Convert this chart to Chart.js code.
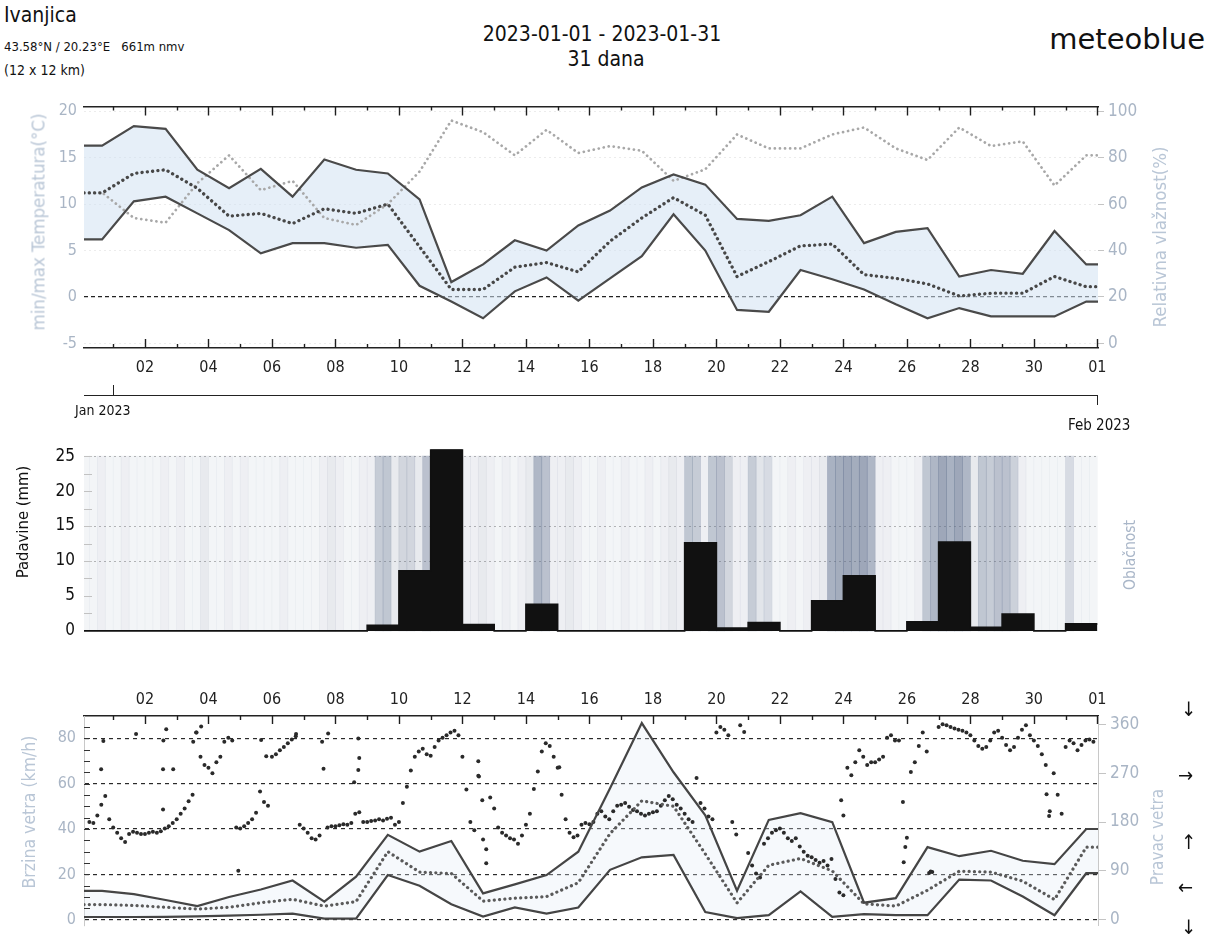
<!DOCTYPE html>
<html>
<head>
<meta charset="utf-8">
<script src="https://cdn.jsdelivr.net/npm/chart.js@4.4.1/dist/chart.umd.min.js"></script>
<style>
  body { margin: 0; background: #fff; width: 1209px; height: 943px; position: relative; overflow: hidden;
         font-family: "DejaVu Sans Condensed", "DejaVu Sans", sans-serif; color: #111; }
  .t { position: absolute; white-space: nowrap; }
  .rot { position: absolute; white-space: nowrap; transform: translate(-50%, -50%) rotate(-90deg); }
  canvas { position: absolute; left: 0; }
  .ln { position: absolute; }
</style>
</head>
<body>
<div class="t" style="left:4px;top:3px;font-size:21px;">Ivanjica</div>
<div class="t" style="left:4px;top:39px;font-size:13px;">43.58°N / 20.23°E &nbsp;&nbsp;661m nmv</div>
<div class="t" style="left:4px;top:62px;font-size:14px;">(12 x 12 km)</div>
<div class="t" style="left:602px;top:22px;font-size:21px;transform:translateX(-50%);">2023-01-01 - 2023-01-31</div>
<div class="t" style="left:606px;top:47px;font-size:21px;transform:translateX(-50%);">31 dana</div>
<div class="t" style="right:4px;top:22px;font-size:29px;font-family:'DejaVu Sans',sans-serif;">meteoblue</div>

<canvas id="c1" width="1209" height="300" style="top:90px"></canvas>
<canvas id="c2" width="1209" height="225" style="top:430px"></canvas>
<canvas id="c3" width="1209" height="258" style="top:685px"></canvas>

<div class="ln" style="left:84px;top:395px;width:1014px;border-top:1.5px solid #222"></div>
<div class="ln" style="left:113px;top:385px;height:10px;border-left:1.5px solid #222"></div>
<div class="ln" style="left:1097px;top:396px;height:9px;border-left:1.5px solid #222"></div>
<div class="t" style="left:75px;top:402px;font-size:14px;">Jan 2023</div>
<div class="t" style="left:1068px;top:416px;font-size:15px;">Feb 2023</div>

<div class="rot" style="left:38px;top:222px;font-size:18.5px;color:#b9c6d6;">min/max Temperatura(°C)</div>
<div class="rot" style="left:1159px;top:237px;font-size:18.5px;color:#b9c6d6;">Relativna vlažnost(%)</div>
<div class="rot" style="left:22px;top:522px;font-size:16.5px;color:#111;">Padavine (mm)</div>
<div class="rot" style="left:1130px;top:555px;font-size:15.5px;color:#a9b6c8;">Oblačnost</div>
<div class="rot" style="left:29px;top:812px;font-size:17.5px;color:#b9c6d6;">Brzina vetra (km/h)</div>
<div class="rot" style="left:1157px;top:837px;font-size:17px;color:#b9c6d6;">Pravac vetra</div>

<div class="t" style="left:1181px;top:699px;font-size:20px;line-height:20px;">↓</div>
<div class="t" style="left:1178px;top:765px;font-size:20px;line-height:20px;">→</div>
<div class="t" style="left:1181px;top:832px;font-size:20px;line-height:20px;">↑</div>
<div class="t" style="left:1178px;top:877px;font-size:20px;line-height:20px;">←</div>
<div class="t" style="left:1181px;top:917px;font-size:20px;line-height:20px;">↓</div>

<script>
// x axis in days after 2023-01-01 00:00
const X_MIN = -0.92, X_MAX = 31.02;
const POINT_OFFSET = -0.35;   // daily values sit a bit before midnight in the source
const dayTicks = [1, 3, 5, 7, 9, 11, 13, 15, 17, 19, 21, 23, 25, 27, 29, 31];
const dayLabels = ['02', '04', '06', '08', '10', '12', '14', '16', '18', '20', '22', '24', '26', '28', '30', '01'];

const tempTicks = [-5, 0, 5, 10, 15, 20];
const rhTicks = [0, 20, 40, 60, 80, 100];
const precipTicks = [0, 5, 10, 15, 20, 25];
const precipGridShown = [10, 15, 25];
const windTicks = [0, 20, 40, 60, 80];
const dirTicks = [0, 90, 180, 270, 360];

// daily series (Dec 31 .. Jan 31)
const tMax = [16.3, 18.4, 18.1, 13.7, 11.7, 13.8, 10.8, 14.8, 13.7, 13.3, 10.5, 1.6, 3.5, 6.1, 5.0, 7.7,
              9.3, 11.8, 13.2, 12.1, 8.4, 8.2, 8.8, 10.8, 5.8, 7.0, 7.4, 2.2, 2.9, 2.5, 7.1, 3.5];
const tMin = [6.2, 10.3, 10.8, 9.0, 7.2, 4.7, 5.8, 5.8, 5.3, 5.6, 1.2, -0.5, -2.3, 0.6, 2.1, -0.4,
              2.0, 4.4, 8.9, 5.0, -1.4, -1.6, 2.9, 1.9, 0.8, -0.8, -2.3, -1.2, -2.1, -2.1, -2.1, -0.5];
const tMean = [11.2, 13.3, 13.7, 11.7, 8.7, 9.0, 7.9, 9.5, 9.0, 10.0, 5.4, 0.8, 0.8, 3.2, 3.7, 2.7,
               6.0, 8.5, 10.7, 8.8, 2.2, 3.8, 5.5, 5.7, 2.4, 2.0, 1.4, 0.1, 0.4, 0.4, 2.2, 1.1];
const rh = [65, 54, 52, 69, 81, 66, 70, 54, 51, 60, 74, 96, 91, 81, 92, 82,
            85, 83, 70, 75, 90, 84, 84, 90, 93, 84, 79, 93, 85, 87, 68, 81];

const wMax = [12.7, 11.3, 8.7, 6.0, 10.0, 13.3, 17.3, 8.0, 19.0, 37.4, 30.0, 34.7, 11.6, 15.6, 19.7, 30.0,
              58.0, 86.7, 65.0, 46.0, 12.8, 44.0, 47.0, 43.0, 7.5, 9.5, 32.0, 28.0, 30.4, 26.0, 24.5, 40.0];
const wMin = [1.2, 1.2, 1.3, 1.5, 1.8, 2.2, 2.7, 0.5, 0.5, 19.7, 15.0, 6.8, 1.4, 5.4, 2.7, 5.4,
              22.0, 27.5, 28.6, 3.4, 0.7, 2.0, 12.5, 1.3, 2.5, 2.0, 2.0, 17.7, 17.3, 10.2, 2.0, 20.5];
const wMean = [6.7, 6.3, 5.5, 4.7, 5.5, 7.5, 9.0, 6.0, 8.0, 30.0, 21.0, 20.4, 8.2, 9.5, 10.2, 16.3,
               38.0, 52.4, 50.0, 29.0, 7.4, 24.0, 27.0, 21.5, 7.0, 6.0, 13.0, 21.4, 21.0, 17.0, 8.9, 32.0];

// daily precipitation Jan 1 .. Jan 31 (mm)
const precip = [0, 0, 0, 0, 0, 0, 0, 0, 0.8, 8.6, 26, 0.9, 0, 3.8, 0, 0, 0, 0, 12.6, 0.4, 1.2, 0,
                4.3, 7.9, 0, 1.3, 12.7, 0.5, 2.4, 0, 1.0];

// cloud cover (%), 6-hourly from Dec 31 00:00
const cloudStart = -1;
const cloudPct = [
  10, 10, 15, 10,   // Dec 31
  10, 15, 10, 10,   // Jan 1
  10, 10, 15, 10,
  15, 10, 10, 20,
  10, 10, 15, 10,
  15, 10, 10, 10,   // Jan 5
  10, 15, 10, 10,
  10, 10, 15, 20,
  15, 10, 10, 15,
  15, 50, 55, 20,   // Jan 9
  40, 40, 20, 60,   // Jan 10
  40, 30, 25, 20,
  15, 15, 20, 15,
  10, 15, 10, 15,
  20, 70, 60, 15,   // Jan 14
  15, 20, 15, 10,
  10, 15, 10, 10,
  15, 10, 10, 15,
  10, 15, 20, 15,
  55, 50, 15, 55,   // Jan 19
  60, 40, 15, 15,
  50, 25, 35, 10,
  10, 15, 10, 15,
  15, 20, 75, 80,   // Jan 23
  85, 80, 85, 70,
  15, 15, 10, 10,
  10, 15, 55, 70,   // Jan 26
  85, 75, 85, 70,
  20, 55, 50, 60,
  60, 45, 15, 10,
  10, 10, 10, 10,
  35, 10, 10, 10    // Jan 31
];

// wind direction (deg), 3-hourly from Dec 31 06:00
const dirStart = -0.75;
const dirDeg = [
  180, 178, 192, 212, 228, 185,
  170, 160, 150, 143, 158, 162, 160, 158,
  158, 160, 162, 160, 163, 168, 172, 178,
  185, 195, 205, 218, 230, 345, 300, 285,
  280, 270, 290, 300, 328, 335, 330, 170,
  168, 172, 178, 185, 197, 236, 217, 210,
  300, 305, 312, 318, 325, 332, 338, 175,
  168, 160, 150, 148, 155, 278, 170, 172,
  172, 174, 176, 175, 178, 195, 198, 180,
  180, 182, 183, 185, 183, 186, 188, 175,
  180, 215, 245, 275, 300, 310, 315, 305,
  302, 318, 330, 335, 340, 345, 348, 340,
  300, 240, 180, 165, 265, 220, 130, 225,
  205, 170, 160, 155, 150, 148, 140, 155,
  175, 195, 241, 273, 310, 325, 320, 300,
  280, 230, 185, 160, 152, 155, 175, 178,
  176, 180, 195, 200, 190, 185, 200, 210,
  212, 215, 208, 202, 200, 195, 192, 195,
  198, 200, 210, 220, 228, 222, 212, 205,
  195, 185, 180, 261, 215, 205, 190, 185,
  345, 355, 350, 340, 180, 157, 358, 346,
  123, 100, 85, 78, 140, 150, 160, 165,
  168, 160, 150, 145, 150, 135, 125, 118,
  115, 110, 105, 108, 100, 112, 75, 50,
  45, 280, 266, 290, 312, 300, 285, 290,
  290, 295, 300, 335, 340, 330, 330, 217,
  151, 272, 290, 320, 345, 310, 89, null,
  355, 360, 358, 355, 352, 350, 348, 345,
  340, 330, 320, 315, 318, 330, 345, 348,
  335, 322, 312, 318, 335, 350, 358, 340,
  330, 320, 305, 285, 200, 270, 230, 195,
  318, 330, 325, 312, 322, 330, 332, 328
];
// scattered extra direction readings
const dirExtraDay = [-0.31, -0.38, 0.72, 1.57, 1.89, 1.67, 1.58, 1.57, 2.61, 2.77, 2.52, 3.94, 4.66, 4.82, 5.76, 6.58,
                     6.77, 7.72, 7.75, 7.72, 7.59, 11.5, 11.52, 11.65, 11.75, 14.05, 22.93, 23.0, 24.9, 24.95, 25.7, 25.8,
                     29.48, 29.4];
const dirExtraDeg = [329, 277, 342, 277, 277, 351, 330, 203, 345, 356, 328, 90, 331, 301, 342, 328,
                     343, 334, 298, 276, 253, 292, 264, 148, 104, 281, 220, 192, 106, 134, 86, 88,
                     191, 231];

const FONT = '"DejaVu Sans Condensed", "DejaVu Sans", sans-serif';
Chart.defaults.font.family = FONT;
Chart.defaults.animation = false;

const AXIS_GREY = '#a9b5c5';

function daily(arr) {
  const pts = arr.map((v, i) => ({ x: i + POINT_OFFSET, y: v }));
  return [{ x: X_MIN, y: arr[0] }, ...pts, { x: X_MAX, y: arr[arr.length - 1] }];
}
const setTicks = list => s => { s.ticks = list.map(v => ({ value: v })); };

// box decorations (inward day ticks, short left marks) on a clean overlay canvas,
// positioned from the finished chart's own scales
function overlayMarks(chart, top, cfg) {
  const cv = document.createElement('canvas');
  cv.width = chart.width;
  cv.height = chart.height;
  cv.style.top = top + 'px';
  cv.style.pointerEvents = 'none';
  document.body.appendChild(cv);
  const ctx = cv.getContext('2d');
  const a = chart.chartArea, xs = chart.scales.x, ys = chart.scales.y;
  ctx.lineWidth = 1.4;
  ctx.strokeStyle = '#1e1e1e';
  if (cfg.edges) {
    ctx.beginPath();
    for (let d = 0; d <= 31; d++) {
      const px = Math.round(xs.getPixelForValue(d)) + 0.5;
      const len = (d % 2 === 1) ? cfg.majorLen : cfg.minorLen;
      if (cfg.edges.indexOf('top') >= 0) { ctx.moveTo(px, a.top); ctx.lineTo(px, a.top + len); }
      if (cfg.edges.indexOf('bottom') >= 0) { ctx.moveTo(px, a.bottom); ctx.lineTo(px, a.bottom - len); }
    }
    ctx.stroke();
  }
  if (cfg.left) {
    const m = cfg.left;
    ctx.strokeStyle = m.color;
    ctx.lineWidth = 1.2;
    ctx.beginPath();
    for (let v = m.from; v <= m.to; v += m.step) {
      const py = Math.round(ys.getPixelForValue(v)) + 0.5;
      ctx.moveTo(a.left, py); ctx.lineTo(a.left + m.len, py);
    }
    ctx.stroke();
  }
}

const dotted = (color, w, gap) => ({
  borderColor: color, borderWidth: w, borderDash: [0.1, gap], borderCapStyle: 'round',
  pointRadius: 0, fill: false, tension: 0
});
const solid = color => ({ borderColor: color, borderWidth: 2.2, pointRadius: 0, tension: 0 });
const noLegend = { legend: { display: false }, tooltip: { enabled: false } };
const dayAxisTicks = { callback: (v, i) => dayLabels[i], color: '#222', font: { size: 16 }, maxRotation: 0, autoSkip: false };

// ---- temperature / humidity ----
const chartTemp = new Chart(document.getElementById('c1'), {
  type: 'line',
  data: {
    datasets: [
      { label: 'max', data: daily(tMax), ...solid('#4a4a4a'), fill: '+1', backgroundColor: 'rgba(210,225,242,0.55)', yAxisID: 'y' },
      { label: 'min', data: daily(tMin), ...solid('#4a4a4a'), fill: false, yAxisID: 'y' },
      { label: 'mean', data: daily(tMean), ...dotted('#474747', 3.3, 5.2), yAxisID: 'y' },
      { label: 'rh', data: daily(rh), ...dotted('#a8a8a8', 2.7, 5), yAxisID: 'y2' }
    ]
  },
  options: {
    responsive: false,
    layout: { padding: 0 },
    plugins: { ...noLegend, filler: { drawTime: 'beforeDatasetsDraw' } },
    scales: {
      x: { type: 'linear', position: 'bottom', min: X_MIN, max: X_MAX,
           afterBuildTicks: setTicks(dayTicks), afterFit: s => { s.height = 42; },
           ticks: { ...dayAxisTicks, padding: 10 },
           grid: { display: false, drawTicks: false }, border: { color: '#222', width: 1.5 } },
      xt: { type: 'linear', position: 'top', min: X_MIN, max: X_MAX,
            afterFit: s => { s.height = 16; }, ticks: { display: false },
            grid: { display: false, drawTicks: false }, border: { color: '#222', width: 1.5 } },
      y: { type: 'linear', position: 'left', min: -5.5, max: 20.5,
           afterBuildTicks: setTicks(tempTicks), afterFit: s => { s.width = 84; },
           ticks: { color: AXIS_GREY, font: { size: 16 }, padding: 7 },
           grid: { drawTicks: false, color: c => c.tick.value === 0 ? '#222' : '#ececec', lineWidth: c => c.tick.value === 0 ? 1.3 : 1 },
           border: { display: false, dash: c => (c.tick && c.tick.value === 0) ? [4, 3] : [2, 3] } },
      y2: { type: 'linear', position: 'right', min: -2, max: 102,
            afterBuildTicks: setTicks(rhTicks), afterFit: s => { s.width = 111; },
            ticks: { color: AXIS_GREY, font: { size: 17 }, padding: 4 },
            grid: { drawOnChartArea: false, tickLength: 6, tickColor: '#c4c4c4' }, border: { display: false } }
    }
  }
});
overlayMarks(chartTemp, 90, { edges: ['top', 'bottom'], majorLen: 9, minorLen: 4 });

// ---- precipitation / cloud cover ----
const P_MIN = -0.7, P_MAX = 26;
const precipPts = [{ x: X_MIN, y: 0 }, ...precip.map((v, i) => ({ x: i, y: v })), { x: precip.length, y: precip[precip.length - 1] }];
const cloudPts = cloudPct.map((v, i) => ({ x: cloudStart + i * 0.25 + 0.125, y: 1 }));
const cloudColors = cloudPct.map(v => `rgba(92,108,138,${(v / 100 * 0.7).toFixed(3)})`);

const chartRain = new Chart(document.getElementById('c2'), {
  type: 'line',
  data: {
    datasets: [
      { type: 'line', label: 'Padavine', data: precipPts, stepped: true, borderColor: '#111', borderWidth: 1.6,
        backgroundColor: '#111', fill: 'origin', pointRadius: 0, yAxisID: 'y', order: 1 },
      { type: 'bar', label: 'Oblačnost', data: cloudPts, backgroundColor: cloudColors, borderWidth: 0,
        barPercentage: 1, categoryPercentage: 1, yAxisID: 'yc', order: 2 }
    ]
  },
  options: {
    responsive: false,
    layout: { padding: { top: 17, bottom: 6, right: 111, left: 0 } },
    plugins: { ...noLegend },
    scales: {
      x: { type: 'linear', min: X_MIN, max: X_MAX, offset: false, display: false },
      y: { type: 'linear', position: 'left', min: P_MIN, max: P_MAX,
           afterBuildTicks: setTicks(precipTicks), afterFit: s => { s.width = 84; },
           ticks: { color: '#111', font: { size: 17 }, padding: 9 },
           grid: { drawTicks: false, color: c => precipGridShown.includes(c.tick.value) ? '#b8b8b8' : 'rgba(0,0,0,0)' },
           border: { display: false, dash: [2, 3] } },
      yc: { type: 'linear', display: false, min: P_MIN / 25, max: P_MAX / 25 }
    }
  }
});
overlayMarks(chartRain, 430, { left: { from: 2.5, to: 25, step: 2.5, len: 8, color: '#c2c2c2' } });

// ---- wind speed / direction ----
const KMH_MIN = -2.5, KMH_MAX = 89.8, DEG_PER_KMH = 360 / 86.15;
const dirPts = dirDeg.map((v, i) => ({ x: dirStart + i * 0.125, y: v })).filter(p => p.y !== null);
const dirExtraPts = dirExtraDay.map((d, i) => ({ x: d, y: dirExtraDeg[i] }));
const dirStyle = { showLine: false, pointRadius: 2, pointBackgroundColor: '#2a2a2a', pointBorderWidth: 0, yAxisID: 'y2' };

const chartWind = new Chart(document.getElementById('c3'), {
  type: 'line',
  data: {
    datasets: [
      { label: 'max', data: daily(wMax), ...solid('#454545'), fill: '+1', backgroundColor: 'rgba(226,236,246,0.3)', yAxisID: 'y' },
      { label: 'min', data: daily(wMin), ...solid('#454545'), fill: false, yAxisID: 'y' },
      { label: 'mean', data: daily(wMean), ...dotted('#5a5a5a', 3.2, 5.2), yAxisID: 'y' },
      { label: 'dir', data: dirPts, ...dirStyle },
      { label: 'dir2', data: dirExtraPts, ...dirStyle }
    ]
  },
  options: {
    responsive: false,
    layout: { padding: { top: 0, bottom: 2, left: 0, right: 0 } },
    plugins: { ...noLegend, filler: { drawTime: 'beforeDatasetsDraw' } },
    scales: {
      x: { type: 'linear', position: 'top', min: X_MIN, max: X_MAX,
           afterBuildTicks: setTicks(dayTicks), afterFit: s => { s.height = 31; },
           ticks: { ...dayAxisTicks, padding: 7 },
           grid: { display: false, drawTicks: false }, border: { color: '#222', width: 1.5 } },
      y: { type: 'linear', position: 'left', min: KMH_MIN, max: KMH_MAX,
           afterBuildTicks: setTicks(windTicks), afterFit: s => { s.width = 84; },
           ticks: { color: AXIS_GREY, font: { size: 16 }, padding: 8 },
           grid: { drawTicks: false, color: '#2a2a2a', lineWidth: 1.2 },
           border: { display: true, color: '#c8c8c8', width: 1, dash: [4, 4] } },
      y2: { type: 'linear', position: 'right', min: KMH_MIN * DEG_PER_KMH, max: KMH_MAX * DEG_PER_KMH,
            afterBuildTicks: setTicks(dirTicks), afterFit: s => { s.width = 111; },
            ticks: { color: AXIS_GREY, font: { size: 17 }, padding: 4 },
            grid: { drawOnChartArea: false, tickLength: 8, tickColor: '#c4c4c4' },
            border: { display: true, color: '#c8c8c8', width: 1 } }
    }
  }
});
overlayMarks(chartWind, 685, { edges: ['top'], majorLen: 8, minorLen: 4,
                               left: { from: 5, to: 85, step: 5, len: 6, color: '#333' } });
</script>
</body>
</html>
